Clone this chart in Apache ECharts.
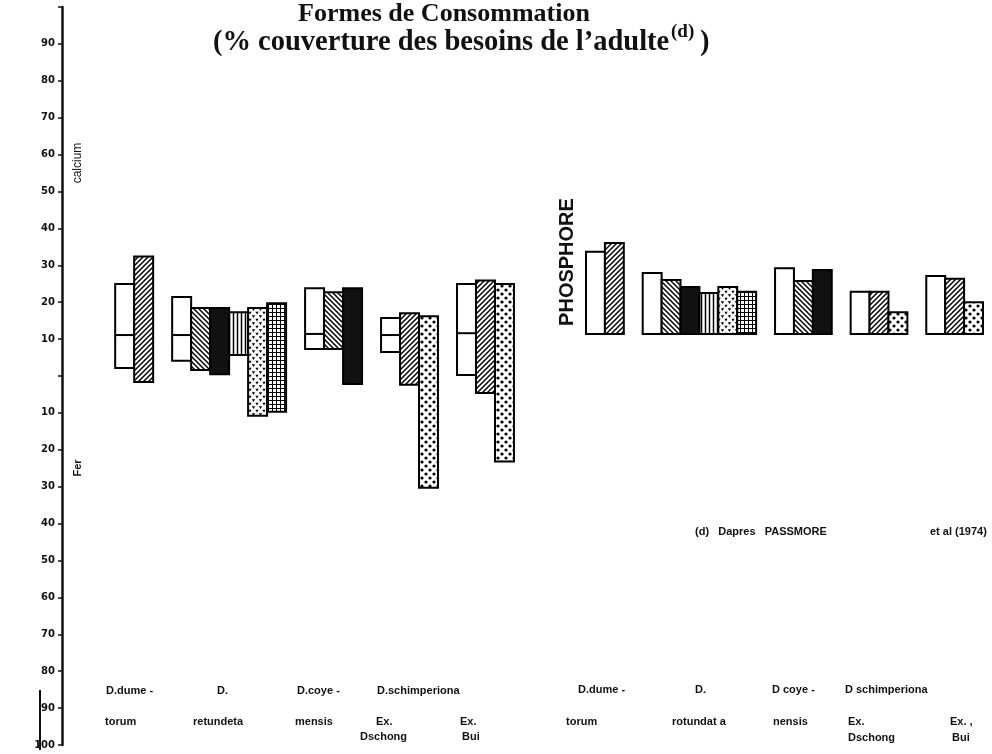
<!DOCTYPE html>
<html>
<head>
<meta charset="utf-8">
<script src="https://cdn.jsdelivr.net/npm/echarts/dist/echarts.min.js"></script>
<style>
  html, body { margin: 0; padding: 0; background: #fff; }
  #chart { width: 992px; height: 754px; }
</style>
</head>
<body>
<div id="chart"></div>
<script>
// bar slots (gaps between species groups are empty slots)
const barSlots = [0, 1, 3, 4, 5, 6, 7, 8, 10, 11, 12, 14, 15, 16, 18, 19, 20];
const barKinds = ['white', 'fwd', 'white', 'back', 'black', 'vert', 'tri', 'cross',
  'white', 'back', 'black', 'white', 'fwd', 'dots', 'white', 'fwd', 'dots'];

// calcium / fer panel: top and bottom of each bar on the axis (calcium up, fer down)
const calciumTop = [24.9, 32.4, 21.4, 18.4, 18.4, 17.3, 18.4, 19.7, 23.8, 22.7, 23.8, 15.7, 17.0, 16.2, 24.9, 25.9, 24.9];
const ferBottom = [2.2, -1.6, 4.1, 1.6, 0.5, 5.7, -10.8, -9.7, 7.3, 7.3, -2.2, 6.5, -2.4, -30.3, 0.3, -4.6, -23.2];
const whiteSplit = [11.1, null, 11.1, null, null, null, null, null, 11.4, null, null, 11.1, null, null, 11.6, null, null];

// phosphore panel
const phosphore = [22.2, 24.6, 16.5, 14.6, 12.7, 11.1, 12.7, 11.4, 17.8, 14.3, 17.3, 11.4, 11.4, 5.9, 15.7, 14.9, 8.6];

// species labels
const speciesLine1 = ['D.dume -', 'D.', 'D.coye -', 'D.schimperiona'];
const speciesLine2 = ['torum', 'retundeta', 'mensis', 'Ex.', 'Ex.'];
const speciesLine3 = ['Dschong', 'Bui'];
const phosLine1 = ['D.dume -', 'D.', 'D coye -', 'D schimperiona'];
const phosLine2 = ['torum', 'rotundat a', 'nensis', 'Ex.', 'Ex. ,'];

function makePattern(kind) {
  const c = document.createElement('canvas');
  const s = kind === 'dots' ? 8 : kind === 'tri' ? 7 : kind === 'cross' ? 4 : kind === 'vert' ? 4 : 5;
  c.width = s; c.height = s;
  const g = c.getContext('2d');
  g.fillStyle = '#fff';
  g.fillRect(0, 0, s, s);
  g.strokeStyle = '#000';
  g.fillStyle = '#000';
  g.lineWidth = 1.5;
  const line = (a, b, cc, d) => { g.beginPath(); g.moveTo(a, b); g.lineTo(cc, d); g.stroke(); };
  if (kind === 'fwd') {
    line(0, s, s, 0); line(-1, 1, 1, -1); line(s - 1, s + 1, s + 1, s - 1);
  } else if (kind === 'back') {
    line(0, 0, s, s); line(-1, s - 1, 1, s + 1); line(s - 1, -1, s + 1, 1);
  } else if (kind === 'vert') {
    line(1.5, 0, 1.5, s);
  } else if (kind === 'cross') {
    g.lineWidth = 1; line(0.5, 0, 0.5, s); line(0, 0.5, s, 0.5);
  } else if (kind === 'dots') {
    g.beginPath(); g.arc(2, 2, 1.6, 0, Math.PI * 2); g.fill();
    g.beginPath(); g.arc(6, 6, 1.6, 0, Math.PI * 2); g.fill();
  } else if (kind === 'tri') {
    [[1.5, 1.5], [5, 5]].forEach(([x, y]) => {
      g.beginPath(); g.moveTo(x - 1.6, y - 1.3); g.lineTo(x + 1.6, y - 1.3); g.lineTo(x, y + 1.6); g.closePath(); g.fill();
    });
  }
  return { image: c, repeat: 'repeat' };
}

const fills = {
  white: '#fff',
  black: '#111',
  fwd: makePattern('fwd'),
  back: makePattern('back'),
  vert: makePattern('vert'),
  cross: makePattern('cross'),
  dots: makePattern('dots'),
  tri: makePattern('tri')
};

function renderBar(params, api) {
  const i = params.dataIndex;
  const p1 = api.coord([api.value(0), api.value(2)]);
  const p2 = api.coord([api.value(0) + 1, api.value(1)]);
  const children = [{
    type: 'rect',
    shape: { x: p1[0], y: p1[1], width: p2[0] - p1[0], height: p2[1] - p1[1] },
    style: { fill: fills[barKinds[i]], stroke: '#000', lineWidth: 2 }
  }];
  const split = api.value(3);
  if (split !== null && !isNaN(split)) {
    const m1 = api.coord([api.value(0), split]);
    children.push({
      type: 'line',
      shape: { x1: p1[0], y1: m1[1], x2: p2[0], y2: m1[1] },
      style: { stroke: '#000', lineWidth: 2 }
    });
  }
  return { type: 'group', children };
}

const leftData = barSlots.map((s, i) => [s, ferBottom[i], calciumTop[i], whiteSplit[i] === null ? NaN : whiteSplit[i]]);
const rightData = barSlots.map((s, i) => [s, 0, phosphore[i], NaN]);

const labelFont = 'bold 11px "Liberation Sans", sans-serif';
const serif = '"Liberation Serif", serif';
function txt(text, x, y, extra) {
  return Object.assign({
    type: 'text', x, y,
    style: { text, font: labelFont, fill: '#111', textVerticalAlign: 'middle' }
  }, extra || {});
}

const chart = echarts.init(document.getElementById('chart'));
chart.setOption({
  animation: false,
  backgroundColor: '#fff',
  grid: [
    { left: 62, right: 478, top: 7, bottom: 9 },
    { left: 586, right: 9, top: 112, bottom: 420 }
  ],
  xAxis: [
    { type: 'value', gridIndex: 0, min: -2.8, max: 21, show: false },
    { type: 'value', gridIndex: 1, min: 0, max: 21, show: false }
  ],
  yAxis: [
    {
      type: 'value', gridIndex: 0, min: -100, max: 100, interval: 10,
      splitLine: { show: false },
      axisLine: { show: true, onZero: false, lineStyle: { color: '#111', width: 2.5 } },
      axisTick: {
        show: true, length: 4, lineStyle: { color: '#111', width: 1.5 },
        interval: (idx, v) => Number(v) !== 100
      },
      axisLabel: {
        color: '#111', margin: 7,
        fontFamily: 'DejaVu Sans', fontWeight: 'bold', fontSize: 10,
        formatter: v => (v === 0 || v === 100) ? '' : String(Math.abs(v))
      }
    },
    { type: 'value', gridIndex: 1, min: 0, max: 60, show: false }
  ],
  series: [
    {
      type: 'custom', xAxisIndex: 0, yAxisIndex: 0,
      renderItem: renderBar, encode: { x: 0, y: [1, 2] }, data: leftData
    },
    {
      type: 'custom', xAxisIndex: 1, yAxisIndex: 1,
      renderItem: renderBar, encode: { x: 0, y: [1, 2] },
      data: rightData
    }
  ],
  graphic: [
    {
      type: 'text', x: 444, y: 14,
      style: { text: 'Formes de Consommation', font: 'bold 26px ' + serif, fill: '#111', textAlign: 'center', textVerticalAlign: 'middle' }
    },
    {
      type: 'text', x: 213, y: 43,
      style: { text: '(% couverture des besoins de l\u2019adulte', font: 'bold 28.5px ' + serif, fill: '#111', textVerticalAlign: 'middle' }
    },
    {
      type: 'text', x: 671, y: 32,
      style: { text: '(d)', font: 'bold 19px ' + serif, fill: '#111', textVerticalAlign: 'middle' }
    },
    {
      type: 'text', x: 700, y: 43,
      style: { text: ')', font: 'bold 28.5px ' + serif, fill: '#111', textVerticalAlign: 'middle' }
    },
    txt('calcium', 78, 163, { rotation: Math.PI / 2, style: { text: 'calcium', font: '12px "Liberation Sans", sans-serif', fill: '#111', textAlign: 'center', textVerticalAlign: 'middle' } }),
    txt('Fer', 78, 468, { rotation: Math.PI / 2, style: { text: 'Fer', font: labelFont, fill: '#111', textAlign: 'center', textVerticalAlign: 'middle' } }),
    {
      type: 'text', x: 567, y: 262, rotation: Math.PI / 2,
      style: { text: 'PHOSPHORE', font: 'bold 20px "Liberation Sans", sans-serif', fill: '#111', textAlign: 'center', textVerticalAlign: 'middle' }
    },
    { type: 'line', shape: { x1: 40, y1: 690, x2: 40, y2: 750 }, style: { stroke: '#111', lineWidth: 2 } },
    // left panel species
    txt(speciesLine1[0], 106, 691), txt(speciesLine1[1], 217, 691), txt(speciesLine1[2], 297, 691), txt(speciesLine1[3], 377, 691),
    txt(speciesLine2[0], 105, 722), txt(speciesLine2[1], 193, 722), txt(speciesLine2[2], 295, 722),
    txt(speciesLine2[3], 376, 722), txt(speciesLine2[4], 460, 722),
    txt(speciesLine3[0], 360, 737), txt(speciesLine3[1], 462, 737),
    // right panel species
    txt(phosLine1[0], 578, 690), txt(phosLine1[1], 695, 690), txt(phosLine1[2], 772, 690), txt(phosLine1[3], 845, 690),
    txt(phosLine2[0], 566, 722), txt(phosLine2[1], 672, 722), txt(phosLine2[2], 773, 722),
    txt(phosLine2[3], 848, 722), txt(phosLine2[4], 950, 722),
    txt(speciesLine3[0], 848, 738), txt(speciesLine3[1], 952, 738),
    // source note
    txt('(d)   Dapres   PASSMORE', 695, 532),
    txt('et al (1974)', 930, 532)
  ]
});
</script>
</body>
</html>
